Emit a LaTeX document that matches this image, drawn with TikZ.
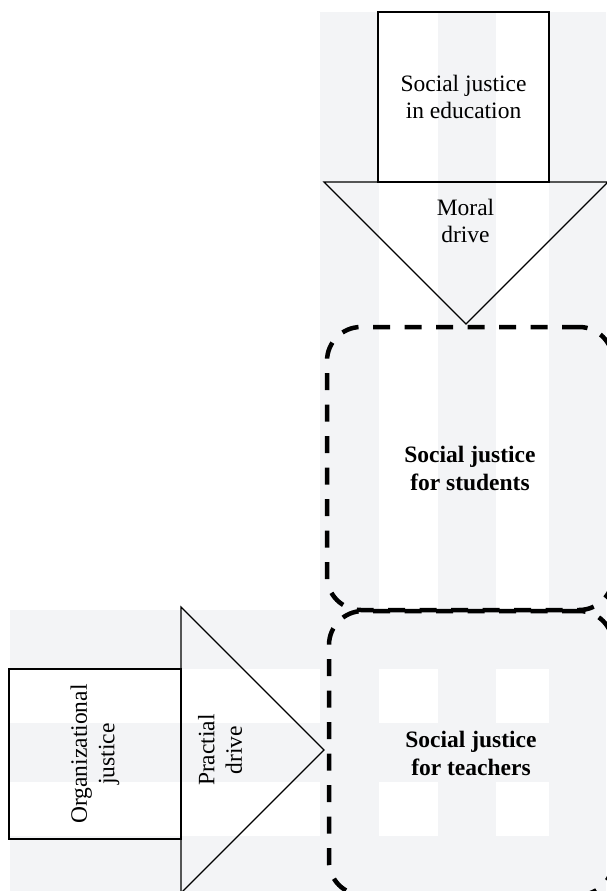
\documentclass[tikz,border=0pt]{standalone}
\usepackage{fontspec}
\setmainfont{Liberation Serif}
\definecolor{stripe}{RGB}{243,244,246}
\begin{document}
\begin{tikzpicture}[x=1pt,y=-1pt,
  solidline/.style={draw=black,line width=1.1pt},
  plainbox/.style={solidline,inner sep=0pt,align=center,font=\fontsize{23.5}{27.5}\selectfont},
  lbl/.style={inner sep=0pt,align=center,font=\fontsize{23.5}{27.5}\selectfont},
  dashbox/.style={draw=black,line width=4.5pt,dash pattern=on 17pt off 14.5pt,rounded corners=34pt,
    inner sep=0pt,align=center,font=\fontsize{23.5}{28}\selectfont\bfseries}]
\useasboundingbox (0,0) rectangle (606,891);
% background stripes (vertical, top-right region)
\fill[stripe] (320,12) rectangle (379,891);
\fill[stripe] (438,12) rectangle (496,891);
\fill[stripe] (549,12) rectangle (606,891);
% background stripes (horizontal, bottom region)
\fill[stripe] (10,610) rectangle (606,669);
\fill[stripe] (10,723) rectangle (606,782);
\fill[stripe] (10,836) rectangle (606,891);
% top box and moral drive triangle
\node[plainbox,minimum width=171pt,minimum height=170pt] (edu) at (463.5,97) {Social justice\\in education};
\coordinate (mtl) at (324,182);
\coordinate (mtr) at (608,182);
\coordinate (mtip) at (466,324);
\draw[solidline] (mtl) -- (mtr) -- (mtip) -- cycle;
\node[lbl] (moral) at (465.5,221) {Moral\\drive};
% left box and practical drive triangle
\node[plainbox,minimum width=170pt,minimum height=172pt,rotate=90] (org) at (95,754) {Organizational\\justice};
\coordinate (ptt) at (181,607);
\coordinate (ptb) at (181,893);
\coordinate (ptip) at (324,750);
\draw[solidline] (ptt) -- (ptip) -- (ptb) -- cycle;
\node[lbl,rotate=90] (practical) at (220,750) {Practial\\drive};
% dashed target boxes
\node[dashbox,minimum width=286pt,minimum height=283pt] (students) at (470,468.5) {Social justice\\for students};
\node[dashbox,minimum width=284pt,minimum height=284pt] (teachers) at (471,753) {Social justice\\for teachers};
\end{tikzpicture}
\end{document}
